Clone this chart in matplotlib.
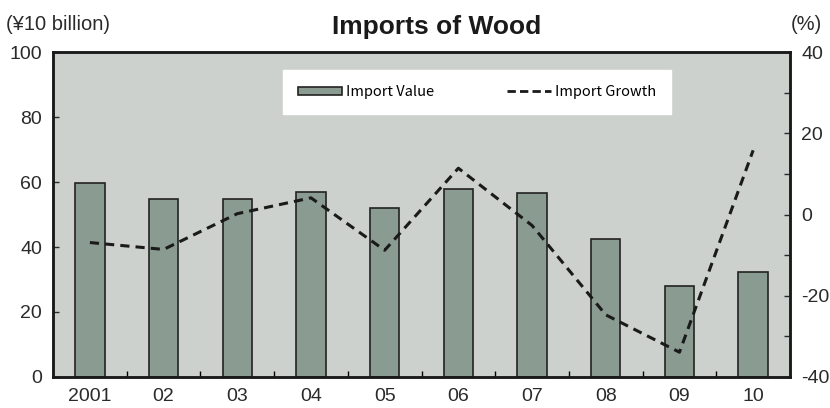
import numpy as np
import matplotlib
matplotlib.use("Agg")
from matplotlib import pyplot as plt
from matplotlib.patches import Patch
from matplotlib.lines import Line2D

# values
years = ["2001", "02", "03", "04", "05", "06", "07", "08", "09", "10"]
import_value = [59.8, 54.7, 54.9, 57.0, 52.1, 57.8, 56.5, 42.5, 27.9, 32.3]
import_growth = [-6.9, -8.6, 0.2, 4.1, -8.8, 11.4, -2.7, -24.7, -33.9, 15.8]

plt.rcParams['font.family'] = ['Liberation Sans', 'DejaVu Sans']

fig = plt.figure(figsize=(8.3, 4.08), dpi=100)
ax = fig.add_axes([0.0639, 0.076, 0.8879, 0.7965])
ax.set_facecolor("#ccd1cd")

x = np.arange(len(years))
ax.bar(x, import_value, width=0.4, color="#8a9b91", edgecolor="#222222", linewidth=1.2, zorder=2)
ax.set_xlim(-0.5, len(years) - 0.5)
ax.set_ylim(0, 100)
ax.set_yticks([0, 20, 40, 60, 80, 100])
ax.set_xticks(x)
ax.set_xticklabels(years)
ax.set_xticks(x[:-1] + 0.5, minor=True)
ax.tick_params(axis="x", which="major", length=0, labelsize=14, pad=8, colors="#2a2a2a")
ax.tick_params(axis="x", which="minor", direction="in", length=4, width=1)
ax.tick_params(axis="y", direction="in", length=4, width=1, labelsize=14, pad=8, colors="#2a2a2a")
for s in ax.spines.values():
    s.set_linewidth(1.8)
    s.set_color("#1a1a1a")

ax2 = ax.twinx()
ax2.plot(x, import_growth, color="#1a1a1a", linestyle=(0, (3, 2)), linewidth=2.2, zorder=3)
ax2.set_ylim(-40, 40)
ax2.set_yticks(np.arange(-40, 41, 10))
ax2.set_yticklabels([str(v) if v % 20 == 0 else "" for v in range(-40, 41, 10)])
ax2.tick_params(axis="y", direction="in", length=4, width=1, labelsize=14, pad=8, colors="#2a2a2a")
for s in ax2.spines.values():
    s.set_linewidth(1.8)
    s.set_color("#1a1a1a")

handles = [
    Patch(facecolor="#8a9b91", edgecolor="#222222", linewidth=1.2),
    Line2D([0], [0], color="#1a1a1a", linestyle=(0, (3, 1.5)), linewidth=2.0),
]
leg = ax2.legend(handles, ["Import Value", "Import Growth"], ncol=2, loc="center",
                 frameon=True, fancybox=False,
                 prop={"family": ["Noto Sans CJK JP", "DejaVu Sans"], "size": 10.5},
                 handlelength=3.0, handleheight=0.5, handletextpad=0.3, columnspacing=5.0,
                 borderpad=1.0)
leg.get_frame().set_facecolor("white")
leg.get_frame().set_edgecolor("white")
leg.get_frame().set_alpha(1)
leg.set_bbox_to_anchor((477 / 830, (408 - 92) / 408), transform=fig.transFigure)

fig.text(437 / 830, 381 / 408, "Imports of Wood", ha="center", va="center",
         fontsize=19, fontweight="bold", color="#1a1a1a")
fig.text(6 / 830, 383 / 408, "(¥10 billion)", ha="left", va="center", fontsize=14.5, color="#2a2a2a")
fig.text(822 / 830, 383 / 408, "(%)", ha="right", va="center", fontsize=14.5, color="#2a2a2a")

fig.savefig("out.png", dpi=100)
